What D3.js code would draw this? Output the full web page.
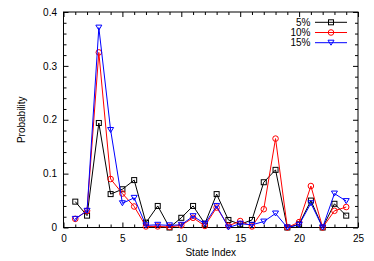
<!DOCTYPE html>
<html>
<head>
<meta charset="utf-8">
<script src="https://cdn.jsdelivr.net/npm/d3@7"></script>
<style>
  body { margin: 0; background: #fff; }
  text { font-family: "Liberation Sans", Arial, sans-serif; }
</style>
</head>
<body>
<script>
// data
stateIndex = d3.range(1, 25)
p5  = [0.048, 0.022, 0.194, 0.062, 0.071, 0.088, 0.009, 0.040, 0.000, 0.018, 0.040, 0.007,
       0.062, 0.014, 0.006, 0.014, 0.084, 0.107, 0.000, 0.006, 0.050, 0.000, 0.044, 0.022]
p10 = [0.016, 0.031, 0.325, 0.090, 0.063, 0.039, 0.002, 0.002, 0.001, 0.004, 0.018, 0.003,
       0.037, 0.003, 0.012, 0.002, 0.034, 0.165, 0.000, 0.010, 0.077, 0.000, 0.031, 0.038]
p15 = [0.016, 0.031, 0.371, 0.181, 0.045, 0.055, 0.004, 0.005, 0.004, 0.005, 0.021, 0.007,
       0.040, 0.000, 0.007, 0.005, 0.011, 0.026, 0.000, 0.005, 0.045, 0.000, 0.063, 0.049]
seriesNames = ['5%', '10%', '15%']
xTicks = [0, 5, 10, 15, 20, 25]
yTicks = [0, 0.1, 0.2, 0.3, 0.4]

w = 374
h = 261
// plot frame (window.top is reserved, so prefixed names)
pLeft = 63.5, pRight = 358, pTop = 12, pBottom = 227.5

svg = d3.select('body').append('svg')
  .attr('width', w)
  .attr('height', h)

xScale = d3.scaleLinear().domain([0, 25]).range([pLeft, pRight])
yScale = d3.scaleLinear().domain([0, 0.4]).range([pBottom, pTop])

// axes: gnuplot style, ticks pointing in, mirrored
function tickAxes(){
  // major
  svg.append('g').attr('transform', `translate(0,${pBottom})`)
     .call(d3.axisBottom(xScale).tickValues(xTicks).tickSizeInner(-5).tickSizeOuter(0).tickPadding(7).tickFormat(d3.format('d')))
  svg.append('g').attr('transform', `translate(${pLeft},0)`)
     .call(d3.axisLeft(yScale).tickValues(yTicks).tickSizeInner(-5).tickSizeOuter(0).tickPadding(6.5).tickFormat(d => d == 0 ? '0' : d3.format('.1f')(d)))
  svg.append('g').attr('transform', `translate(0,${pTop})`)
     .call(d3.axisTop(xScale).tickValues(xTicks).tickSizeInner(-5).tickSizeOuter(0).tickFormat(''))
  svg.append('g').attr('transform', `translate(${pRight},0)`)
     .call(d3.axisRight(yScale).tickValues(yTicks).tickSizeInner(-5).tickSizeOuter(0).tickFormat(''))
  // minor
  let xMinor = d3.range(0, 26).filter(d => d % 5 != 0)
  let yMinor = d3.range(0, 21).map(d => d * 0.02).filter((d, i) => i % 5 != 0)
  svg.append('g').attr('transform', `translate(0,${pBottom})`)
     .call(d3.axisBottom(xScale).tickValues(xMinor).tickSize(-3).tickFormat(''))
  svg.append('g').attr('transform', `translate(0,${pTop})`)
     .call(d3.axisTop(xScale).tickValues(xMinor).tickSize(-3).tickFormat(''))
  svg.append('g').attr('transform', `translate(${pLeft},0)`)
     .call(d3.axisLeft(yScale).tickValues(yMinor).tickSize(-3).tickFormat(''))
  svg.append('g').attr('transform', `translate(${pRight},0)`)
     .call(d3.axisRight(yScale).tickValues(yMinor).tickSize(-3).tickFormat(''))
  svg.selectAll('.domain').remove()
  svg.selectAll('.tick line').attr('stroke', '#000')
  svg.selectAll('.tick text').attr('font-size', 10).attr('fill', '#000')
    .attr('font-family', '"Liberation Sans", Arial, sans-serif')
}
tickAxes()

svg.append('rect')
  .attr('x', pLeft).attr('y', pTop)
  .attr('width', pRight - pLeft).attr('height', pBottom - pTop)
  .attr('fill', 'none').attr('stroke', '#000').attr('stroke-width', 1)

// labels
svg.append('text').attr('x', (pLeft + pRight) / 2).attr('y', 256)
  .attr('text-anchor', 'middle').attr('font-size', 10).text('State Index')
svg.append('text').attr('transform', `translate(25,${(pTop + pBottom) / 2}) rotate(-90)`)
  .attr('text-anchor', 'middle').attr('font-size', 10).text('Probability')

series = [
  {name: seriesNames[0], values: p5,  color: '#000', marker: 'square'},
  {name: seriesNames[1], values: p10, color: '#ff0000', marker: 'circle'},
  {name: seriesNames[2], values: p15, color: '#0000ff', marker: 'tri'}
]

function drawMarker(g, type, color){
  if (type == 'square')
    g.append('rect').attr('x', -2.5).attr('y', -2.5).attr('width', 5).attr('height', 5)
     .attr('fill', 'none').attr('stroke', color)
  else if (type == 'circle')
    g.append('circle').attr('r', 2.8).attr('fill', 'none').attr('stroke', color)
  else
    g.append('path').attr('d', 'M-3,-2.5L3,-2.5L0,2.5Z').attr('fill', 'none').attr('stroke', color)
}

line = d3.line().x((d, i) => xScale(stateIndex[i])).y(d => yScale(d))

series.forEach(s => {
  svg.append('path').datum(s.values)
    .attr('d', line).attr('fill', 'none').attr('stroke', s.color).attr('stroke-width', 1)
  svg.selectAll(null).data(s.values).enter()
    .append('g')
    .attr('transform', (d, i) => `translate(${xScale(stateIndex[i])},${yScale(d)})`)
    .each(function(){ drawMarker(d3.select(this), s.marker, s.color) })
})

// legend
legend = svg.append('g')
series.forEach((s, i) => {
  let y = 22.3 + i * 10.2
  legend.append('text').attr('x', 310.5).attr('y', y + 3.5)
    .attr('text-anchor', 'end').attr('font-size', 10).text(s.name)
  legend.append('line').attr('x1', 315).attr('x2', 347).attr('y1', y).attr('y2', y)
    .attr('stroke', s.color)
  drawMarker(legend.append('g').attr('transform', `translate(331,${y})`), s.marker, s.color)
})
</script>
</body>
</html>
